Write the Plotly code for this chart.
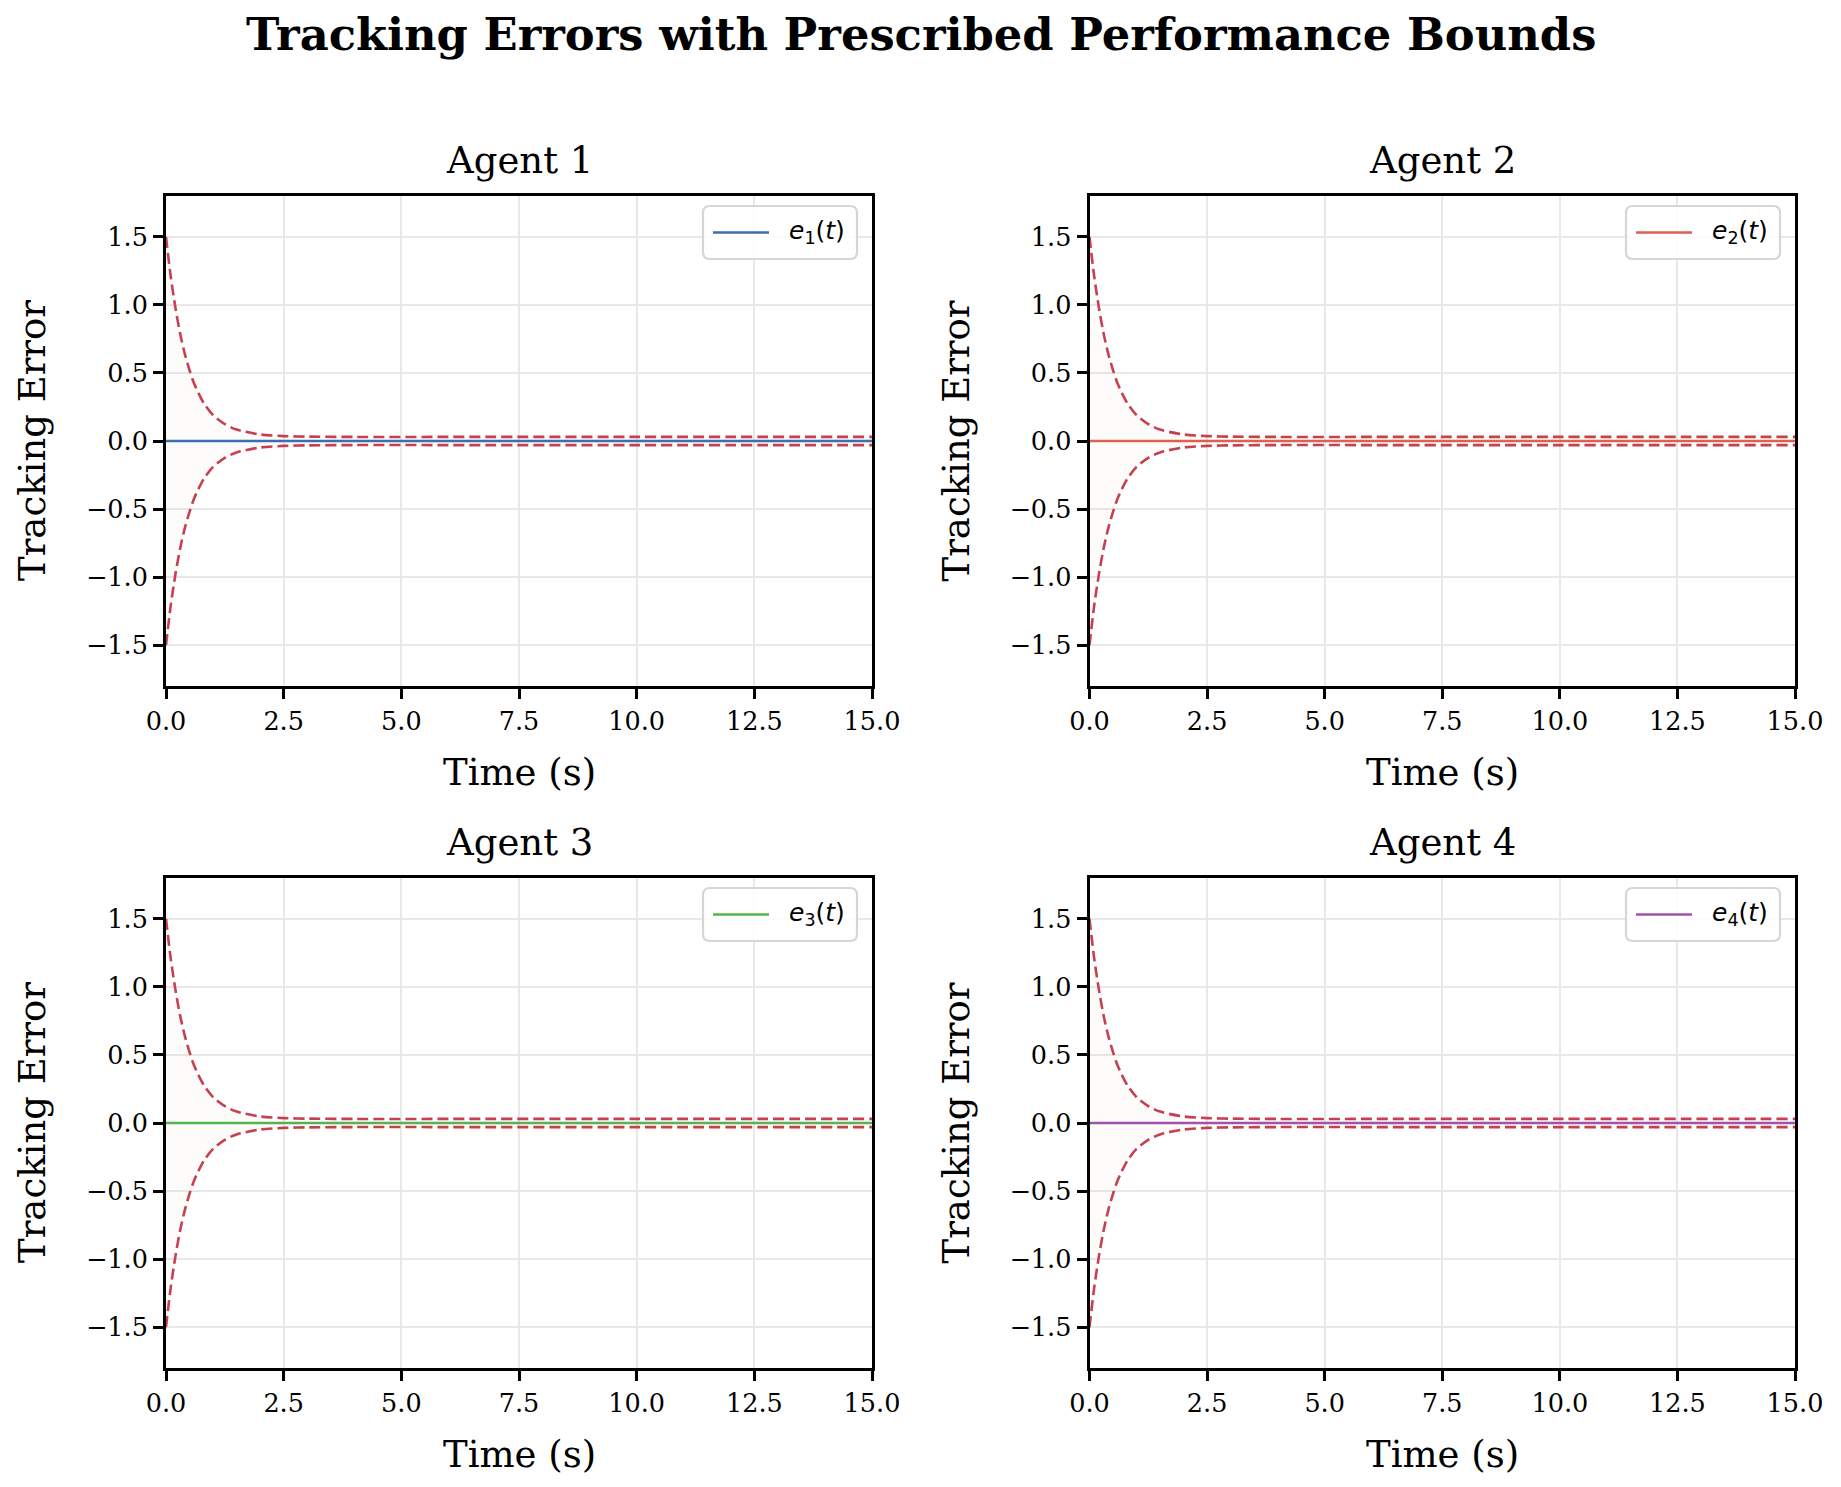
import plotly.graph_objects as go

# values
agents = ["Agent 1", "Agent 2", "Agent 3", "Agent 4"]
legend_names = ["<i>e</i><sub>1</sub>(<i>t</i>)", "<i>e</i><sub>2</sub>(<i>t</i>)",
                "<i>e</i><sub>3</sub>(<i>t</i>)", "<i>e</i><sub>4</sub>(<i>t</i>)"]
line_colors = ["#3a70ad", "#e0604e", "#55b350", "#a152ad"]

t_bound = [0.0, 0.1, 0.2, 0.3, 0.4, 0.5, 0.6, 0.8, 1.0, 1.25, 1.5, 2.0, 2.5, 3.0, 4.0, 6.0, 10.0, 15.0]
rho_upper = [1.50, 1.21, 0.98, 0.79, 0.64, 0.52, 0.42, 0.28, 0.19, 0.124, 0.084, 0.048, 0.036, 0.032, 0.030, 0.030, 0.030, 0.030]
rho_lower = [-1.50, -1.21, -0.98, -0.79, -0.64, -0.52, -0.42, -0.28, -0.19, -0.124, -0.084, -0.048, -0.036, -0.032, -0.030, -0.030, -0.030, -0.030]

t_err = [0.0, 15.0]
errors = [[0.0, 0.0], [0.0, 0.0], [0.0, 0.0], [0.0, 0.0]]

x_ticks = [0.0, 2.5, 5.0, 7.5, 10.0, 12.5, 15.0]
y_ticks = [-1.5, -1.0, -0.5, 0.0, 0.5, 1.0, 1.5]

# the page body adds 8px around the plot, so the figure is a bit smaller
OFF = 8
W, H = 1841 - 2 * OFF, 1487 - 2 * OFF
SERIF = "DejaVu Serif"
BOUND = "#c6404f"

# pixel boxes of the four panels in the reference (left, right, top, bottom)
cols = [(166, 872), (1089.5, 1795)]
rows = [(196, 686), (878, 1368)]


def px(v):
    return (v - OFF) / W


def py(v):
    return 1 - (v - OFF) / H


def rounded_box(x0, y0, x1, y1, rad):
    # x0,y0 top-left / x1,y1 bottom-right in pixels -> svg path in paper units
    rx, ry = rad / W, rad / H
    a, b, c, d = px(x0), py(y0), px(x1), py(y1)
    return (f"M{a + rx},{b} L{c - rx},{b} Q{c},{b} {c},{b - ry} "
            f"L{c},{d + ry} Q{c},{d} {c - rx},{d} L{a + rx},{d} "
            f"Q{a},{d} {a},{d + ry} L{a},{b - ry} Q{a},{b} {a + rx},{b} Z")


fig = go.Figure()
annotations = []
shapes = []
layout = {}

for i, name in enumerate(agents):
    r, c = divmod(i, 2)
    xl, xr = cols[c]
    yt, yb = rows[r]
    n = "" if i == 0 else str(i + 1)
    xa, ya = "x" + n, "y" + n

    fig.add_trace(go.Scatter(x=t_bound, y=rho_lower, xaxis=xa, yaxis=ya, mode="lines",
                             line=dict(width=0, shape="spline", smoothing=0.8),
                             showlegend=False, hoverinfo="skip"))
    fig.add_trace(go.Scatter(x=t_bound, y=rho_upper, xaxis=xa, yaxis=ya, mode="lines",
                             line=dict(width=0, shape="spline", smoothing=0.8),
                             fill="tonexty", fillcolor="rgba(200,150,140,0.03)",
                             showlegend=False, hoverinfo="skip"))
    for b in (rho_upper, rho_lower):
        fig.add_trace(go.Scatter(x=t_bound, y=b, xaxis=xa, yaxis=ya, mode="lines",
                                 line=dict(color=BOUND, width=2.6, dash="11px,5px",
                                           shape="spline", smoothing=0.8),
                                 showlegend=False))
    fig.add_trace(go.Scatter(x=t_err, y=errors[i], xaxis=xa, yaxis=ya, mode="lines",
                             name=legend_names[i], showlegend=False,
                             line=dict(color=line_colors[i], width=2.6)))

    axis_common = dict(showline=True, linecolor="black", linewidth=3, mirror=True,
                       ticks="outside", ticklen=10, tickwidth=2.5, tickcolor="black",
                       showgrid=True, gridcolor="#e8e8e8", gridwidth=2, zeroline=False,
                       automargin=False,
                       tickfont=dict(family=SERIF, size=25.5, color="black"))
    layout["xaxis" + n] = dict(axis_common, domain=[px(xl), px(xr)], range=[0, 15],
                               tickvals=x_ticks, tickformat=".1f", anchor=ya)
    layout["yaxis" + n] = dict(axis_common, domain=[py(yb), py(yt)], range=[-1.8, 1.8],
                               tickvals=y_ticks, tickformat=".1f", anchor=xa)

    # legend box in the upper right corner of each panel
    bx1 = xr - 15
    bx0 = bx1 - 154
    by0 = yt + 10
    by1 = by0 + 53
    ly = (by0 + by1) / 2
    shapes.append(dict(type="path", path=rounded_box(bx0, by0, bx1, by1, 7),
                       xref="paper", yref="paper", fillcolor="rgba(255,255,255,0.85)",
                       line=dict(color="#d6d6d6", width=2.2), layer="above"))
    shapes.append(dict(type="line", xref="paper", yref="paper",
                       x0=px(bx0 + 10), x1=px(bx0 + 66), y0=py(ly), y1=py(ly),
                       line=dict(color=line_colors[i], width=2.6), layer="above"))
    annotations.append(dict(text=legend_names[i], x=px(bx0 + 84), y=py(ly - 1),
                            xref="paper", yref="paper", xanchor="left", yanchor="middle",
                            showarrow=False,
                            font=dict(family="DejaVu Sans", size=25, color="black")))

    annotations.append(dict(text=name, x=px((xl + xr) / 2), y=py(yt - 12),
                            xref="paper", yref="paper", xanchor="center", yanchor="bottom",
                            showarrow=False, font=dict(family=SERIF, size=37, color="black")))
    annotations.append(dict(text="Time (s)", x=px((xl + xr) / 2), y=py(yb + 86),
                            xref="paper", yref="paper", xanchor="center", yanchor="middle",
                            showarrow=False, font=dict(family=SERIF, size=37, color="black")))
    annotations.append(dict(text="Tracking Error", x=px(xl - 134), y=py((yt + yb) / 2),
                            xref="paper", yref="paper", xanchor="center", yanchor="middle",
                            textangle=-90, showarrow=False,
                            font=dict(family=SERIF, size=37, color="black")))

annotations.append(dict(text="<b>Tracking Errors with Prescribed Performance Bounds</b>",
                        x=px(920.5), y=py(35), xref="paper", yref="paper",
                        xanchor="center", yanchor="middle", showarrow=False,
                        font=dict(family=SERIF, size=44.8, color="black")))

fig.update_layout(width=W, height=H, margin=dict(l=0, r=0, t=0, b=0),
                  plot_bgcolor="white", paper_bgcolor="white", showlegend=False,
                  annotations=annotations, shapes=shapes, **layout)

fig.write_html("out.html")
